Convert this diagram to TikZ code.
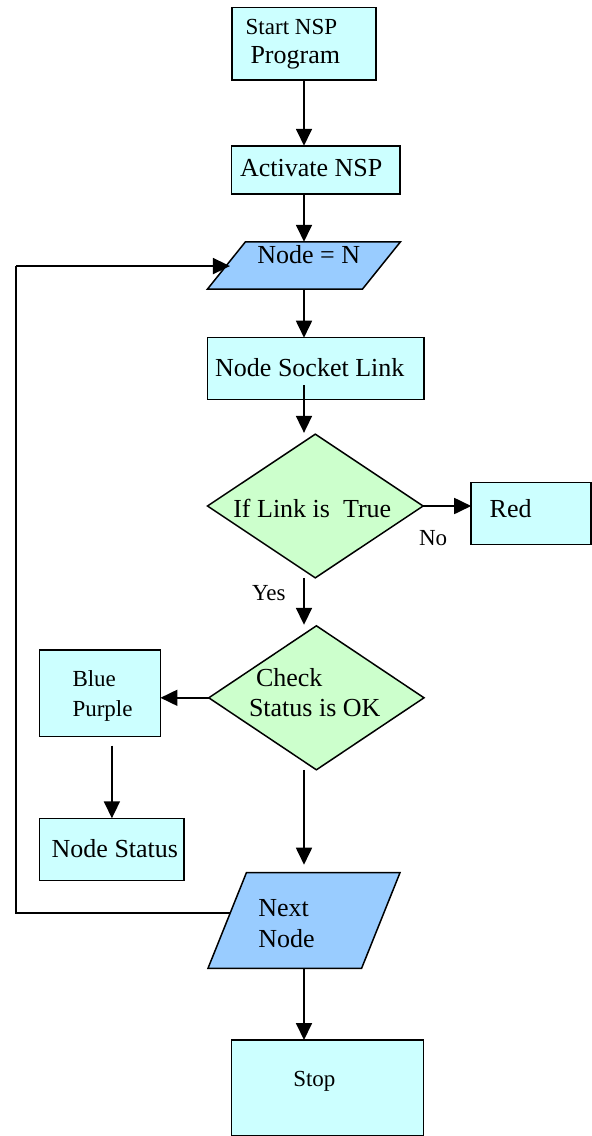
\documentclass[tikz,border=0pt]{standalone}
\usepackage{fontspec}
\setmainfont{Liberation Serif}
\usetikzlibrary{arrows.meta,shapes.geometric,calc}
\definecolor{boxcyan}{HTML}{CCFFFF}
\definecolor{decgreen}{HTML}{CCFFCC}
\definecolor{ioblue}{HTML}{99CCFF}
\begin{document}
\begin{tikzpicture}[x=1pt,y=-1pt,
  proc/.style={rectangle, draw=black, fill=boxcyan, line width=1.5pt, inner sep=0pt, outer sep=0pt},
  decision/.style={diamond, draw=black, fill=decgreen, line width=1.5pt, inner sep=0pt, outer sep=0pt},
  ioframe/.style={rectangle, inner sep=0pt, outer sep=0pt},
  iofill/.style={draw=black, fill=ioblue, line width=1.5pt, line join=miter},
  txt/.style={anchor=base west, inner sep=0pt, outer sep=0pt, font=\fontsize{26}{31}\selectfont},
  txts/.style={txt, font=\fontsize{23}{30}\selectfont},
  flow/.style={line width=1.8pt, -{Triangle[length=17pt,width=16pt]}},
  plainline/.style={line width=1.8pt}]
\useasboundingbox (0,0) rectangle (592,1136);

% main column and loop-back column
\coordinate (colx) at (304,0);
\coordinate (loopx) at (16,0);

% shapes
\node[proc, minimum width=144pt, minimum height=72.7pt] (start) at (304,43.7) {};
\node[proc, minimum width=168.3pt, minimum height=48.3pt] (activate) at (315.8,169.9) {};
\node[ioframe, minimum width=193pt, minimum height=47.3pt] (nodeN) at (304,265.4) {};
\draw[iofill] ([xshift=38pt]nodeN.north west) -- (nodeN.north east)
  -- ([xshift=-38pt]nodeN.south east) -- (nodeN.south west) -- cycle;
\node[proc, minimum width=216.7pt, minimum height=61.6pt] (socket) at (315.7,368.5) {};
\node[decision, minimum width=215.6pt, minimum height=143.7pt] (d1) at (315.3,506) {};
\node[proc, minimum width=119.8pt, minimum height=62pt] (red) at (531.1,513.3) {};
\node[decision, minimum width=215.2pt, minimum height=144pt] (d2) at (316.4,697.8) {};
\node[proc, minimum width=120.9pt, minimum height=86.7pt] (bp) at (100,693.3) {};
\node[proc, minimum width=144.6pt, minimum height=62.4pt] (ns) at (111.9,849.5) {};
\node[ioframe, minimum width=192pt, minimum height=95.6pt] (next) at (304,920.5) {};
\draw[iofill] ([xshift=38.4pt]next.north west) -- (next.north east)
  -- ([xshift=-38.4pt]next.south east) -- (next.south west) -- cycle;
\node[proc, minimum width=191.6pt, minimum height=96pt] (stop) at (327.5,1088) {};

% texts
\node[txts] (tStart) at (245.7,34.5) {Start NSP};
\node[txt] (tProgram) at (250.5,63.5) {Program};
\node[txt] (tActivate) at (240,176) {Activate NSP};
\node[txt] (tNodeN) at (257.3,263.3) {Node = N};
\node[txt] (tSocket) at (215.2,376.7) {Node Socket Link};
\node[txt] (tIf) at (233.3,517) {If Link is~ True};
\node[txt] (tRed) at (489.7,517.3) {Red};
\node[txts] (tNo) at (419,545) {No};
\node[txts] (tYes) at (252,600.5) {Yes};
\node[txt] (tCheck) at (256,686) {Check};
\node[txt] (tStatusOK) at (249,716.7) {Status is OK};
\node[txts] (tBlue) at (72.5,686) {Blue};
\node[txts] (tPurple) at (72.5,716.7) {Purple};
\node[txt] (tNodeStatus) at (51.7,857.3) {Node Status};
\node[txt] (tNext) at (258.3,916) {Next};
\node[txt] (tNextNode) at (258.3,947.3) {Node};
\node[txts] (tStop) at (293.3,1086.7) {Stop};

% connectors
\draw[flow] (colx |- start.south) -- (colx |- activate.north);
\draw[flow] (colx |- activate.south) -- (colx |- nodeN.north);
\draw[flow] (colx |- nodeN.south) -- (colx |- socket.north);
\draw[flow] ($(colx |- socket.south)+(0,-14)$) -- ($(colx |- d1.north)+(0,-1.3)$);
\draw[flow] (d1.east) -- (d1.east -| red.west);
\draw[flow] (colx |- d1.south) -- ($(colx |- d2.north)+(0,-1)$);
\draw[flow] (d2.west) -- (d2.west -| bp.east);
\draw[flow] ($(ns.north |- bp.south)+(0,9)$) -- (ns.north);
\draw[flow] (colx |- d2.south) -- ($(colx |- next.north)+(0,-8)$);
\draw[flow] (colx |- next.south) -- (colx |- stop.north);

% loop back from Next Node to Node = N
\coordinate (nxOut) at ($(next.south west)!0.575!([xshift=38.4pt]next.north west)$);
\coordinate (nNIn) at ($(nodeN.south west)!0.486!([xshift=38pt]nodeN.north west)$);
\draw[plainline] (nxOut) -- (nxOut -| loopx) -- (loopx |- nNIn);
\draw[flow] (loopx |- nNIn) -- ($(nNIn)+(4,0)$);
\end{tikzpicture}
\end{document}
